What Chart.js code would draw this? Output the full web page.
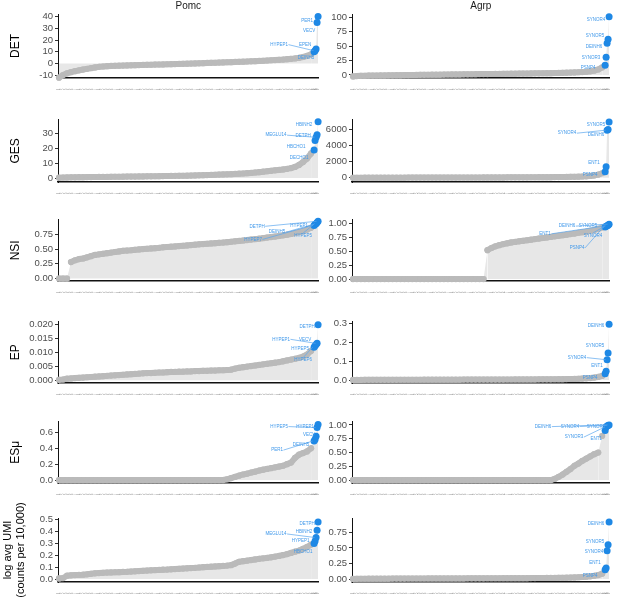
<!DOCTYPE html>
<html>
<head>
<meta charset="utf-8">
<script src="https://cdn.jsdelivr.net/npm/chart.js@4.4.1/dist/chart.umd.min.js"></script>
<style>
  html, body { margin: 0; padding: 0; background: #fff; }
  #fig { position: relative; width: 617px; height: 604px; overflow: hidden; background: #fff; }
  .panel { position: absolute; }
</style>
</head>
<body>
<div id="fig"></div>
<script>
// gray curve is read every 4th gene rank, the 5 top genes are the blue ones
var sampleStep = 4;
var topRanks = [256, 257, 258, 259, 260];

// ---- DET ----
var pomcDET = [-12,-9.8,-8.3,-7.3,-6.5,-5.8,-5.1,-4.5,-3.9,-3.3,-2.8,-2.5,-2.2,-2.0,-1.9,-1.8,-1.7,-1.6,-1.5,-1.4,-1.3,-1.2,-1.1,-1.0,-0.9,-0.8,-0.7,-0.6,-0.5,-0.4,-0.3,-0.2,-0.1,0,0.1,0.2,0.35,0.5,0.6,0.7,0.85,1.0,1.1,1.2,1.35,1.5,1.6,1.75,1.9,2.0,2.2,2.4,2.6,2.8,3.0,3.2,3.4,3.7,4.0,4.4,4.9,5.6,6.5,7.8];
var pomcDETTop = [10, 11, 12.5, 35, 40];
var pomcDETNames = ["DEINH5", "HYPEP1", "EPEN", "VECV", "PER1"];
var agrpDET = [-2.5,-1.8,-1.5,-1.3,-1.1,-1.0,-0.9,-0.8,-0.7,-0.6,-0.5,-0.4,-0.3,-0.2,-0.1,0,0.1,0.2,0.3,0.4,0.5,0.6,0.6,0.7,0.8,0.9,1.0,1.0,1.1,1.2,1.3,1.4,1.5,1.5,1.6,1.7,1.8,1.9,2.0,2.1,2.2,2.3,2.4,2.5,2.6,2.7,2.8,2.9,3.0,3.1,3.2,3.4,3.5,3.7,3.9,4.1,4.4,4.7,5.1,5.6,6.3,7.5,9.5,13];
var agrpDETTop = [17, 30.5, 54.6, 61.5, 100.5];
var agrpDETNames = ["PSNP4", "SYNOR3", "DEINH6", "SYNOR5", "SYNOR4"];

// ---- GES ----
var pomcGES = [0.3,0.4,0.45,0.5,0.55,0.6,0.65,0.7,0.72,0.75,0.78,0.8,0.83,0.86,0.9,0.93,0.96,1.0,1.03,1.06,1.1,1.14,1.18,1.22,1.26,1.3,1.35,1.4,1.45,1.5,1.55,1.6,1.66,1.72,1.8,1.88,1.96,2.05,2.15,2.25,2.35,2.45,2.55,2.65,2.8,2.95,3.1,3.3,3.5,3.75,4.0,4.3,4.6,4.9,5.2,5.5,5.8,6.2,6.7,7.5,8.8,10.8,13.2,16.5];
var pomcGESTop = [18.9, 25.2, 27.4, 29.1, 37.8];
var pomcGESNames = ["HBCHO1", "DECHO1", "MEGLU14", "DETPH", "HBINH2"];
var agrpGES = [2,4,6,8,9,10,11,12,13,14,15,16,17,18,19,20,21,22,23,24,25,26,27,28,29,30,31,32,33,34,35,36,37,38,40,42,44,46,48,50,52,54,56,58,60,63,66,69,72,76,80,85,90,96,103,112,123,138,158,185,225,290,390,560];
var agrpGESTop = [760, 1360, 5880, 5960, 6880];
var agrpGESNames = ["PSNP4", "ENT1", "SYNOR4", "DEINH6", "SYNOR5"];

// ---- NSI ----
var pomcNSI = [0,0,0,0.28,0.31,0.33,0.34,0.36,0.38,0.40,0.41,0.42,0.43,0.44,0.45,0.46,0.47,0.475,0.48,0.487,0.493,0.5,0.505,0.51,0.515,0.52,0.53,0.535,0.54,0.545,0.55,0.556,0.562,0.568,0.574,0.58,0.585,0.59,0.595,0.6,0.605,0.61,0.617,0.624,0.631,0.638,0.645,0.652,0.66,0.668,0.676,0.685,0.694,0.703,0.712,0.722,0.732,0.743,0.755,0.77,0.785,0.805,0.83,0.86];
var pomcNSITop = [0.90, 0.92, 0.93, 0.95, 0.97];
var pomcNSINames = ["HYPEP7", "DEINH5", "HYPEP5", "HYPEP1", "DETPH"];
var agrpNSI = [0,0,0,0,0,0,0,0,0,0,0,0,0,0,0,0,0,0,0,0,0,0,0,0,0,0,0,0,0,0,0,0,0,0,0.52,0.56,0.59,0.61,0.63,0.645,0.66,0.67,0.68,0.69,0.70,0.71,0.72,0.73,0.74,0.75,0.76,0.77,0.78,0.79,0.80,0.81,0.82,0.835,0.845,0.855,0.87,0.885,0.905,0.93];
var agrpNSITop = [0.94, 0.95, 0.96, 0.97, 0.99];
var agrpNSINames = ["PSNP4", "SYNOR4", "ENT1", "SYNOR5", "DEINH6"];

// ---- EP ----
var pomcEP = [0.0002,0.0003,0.0006,0.0007,0.0008,0.0009,0.001,0.0011,0.0012,0.0013,0.0014,0.0015,0.0016,0.0017,0.0018,0.0019,0.002,0.0021,0.0022,0.0023,0.0024,0.0025,0.0026,0.0026,0.0027,0.0028,0.0028,0.0029,0.003,0.003,0.0031,0.0031,0.0032,0.0032,0.0033,0.0033,0.0034,0.0034,0.0035,0.0035,0.0036,0.0036,0.0037,0.0038,0.0042,0.0045,0.0047,0.0049,0.0051,0.0053,0.0055,0.0057,0.0059,0.0061,0.0063,0.0065,0.0068,0.0071,0.0074,0.0077,0.008,0.0085,0.0092,0.0105];
var pomcEPTop = [0.0118, 0.0123, 0.0128, 0.0132, 0.0198];
var pomcEPNames = ["HYPEP6", "HYPEP5", "VECV", "HYPEP1", "DETPH"];
var agrpEP = [0.0005,0.0007,0.0008,0.0009,0.001,0.001,0.0011,0.0011,0.0012,0.0012,0.0013,0.0013,0.0014,0.0014,0.0015,0.0015,0.0016,0.0016,0.0017,0.0017,0.0018,0.0018,0.0019,0.0019,0.002,0.002,0.0021,0.0021,0.0022,0.0022,0.0023,0.0023,0.0024,0.0024,0.0025,0.0025,0.0026,0.0026,0.0027,0.0028,0.0029,0.003,0.0031,0.0032,0.0033,0.0034,0.0035,0.0036,0.0037,0.0038,0.004,0.0042,0.0044,0.0047,0.005,0.0054,0.0059,0.0066,0.0075,0.0088,0.0105,0.013,0.0165,0.022];
var agrpEPTop = [0.033, 0.047, 0.108, 0.143, 0.295];
var agrpEPNames = ["PSNP4", "ENT1", "SYNOR4", "SYNOR5", "DEINH6"];

// ---- ESmu ----
var pomcESmu = [0,0,0,0,0,0,0,0,0,0,0,0,0,0,0,0,0,0,0,0,0,0,0,0,0,0,0,0,0,0,0,0,0,0,0,0,0,0,0,0,0,0,0.01,0.025,0.04,0.055,0.07,0.08,0.095,0.105,0.12,0.13,0.14,0.15,0.16,0.17,0.18,0.2,0.22,0.28,0.32,0.34,0.36,0.4];
var pomcESmuTop = [0.49, 0.51, 0.55, 0.66, 0.70];
var pomcESmuNames = ["PER1", "DEINH5", "VECV", "HYPEP5", "HYPEP1"];
var agrpESmu = [0,0,0,0,0,0,0,0,0,0,0,0,0,0,0,0,0,0,0,0,0,0,0,0,0,0,0,0,0,0,0,0,0,0,0,0,0,0,0,0,0,0,0,0,0,0,0,0,0,0,0,0.02,0.06,0.1,0.15,0.2,0.26,0.3,0.35,0.39,0.43,0.47,0.5,0.8];
var agrpESmuTop = [0.90, 0.96, 0.98, 0.99, 1.0];
var agrpESmuNames = ["ENT1", "SYNOR3", "SYNOR5", "SYNOR4", "DEINH6"];

// ---- log avg UMI ----
var pomcUMI = [0.005,0.008,0.028,0.031,0.033,0.035,0.037,0.04,0.044,0.048,0.05,0.052,0.054,0.056,0.057,0.058,0.06,0.061,0.063,0.065,0.067,0.069,0.071,0.073,0.075,0.077,0.079,0.08,0.082,0.084,0.086,0.088,0.09,0.092,0.094,0.097,0.1,0.102,0.104,0.106,0.108,0.11,0.113,0.117,0.13,0.145,0.15,0.155,0.16,0.165,0.17,0.174,0.178,0.183,0.189,0.195,0.202,0.21,0.22,0.23,0.24,0.255,0.27,0.29];
var pomcUMITop = [0.30, 0.32, 0.35, 0.41, 0.48];
var pomcUMINames = ["HBCHO1", "HYPEP1", "MEGLU14", "HBINH2", "DETPH"];
var agrpUMI = [0.002,0.003,0.004,0.004,0.005,0.005,0.005,0.006,0.006,0.006,0.007,0.007,0.007,0.007,0.008,0.008,0.008,0.008,0.008,0.009,0.009,0.009,0.009,0.009,0.01,0.01,0.01,0.01,0.01,0.011,0.011,0.011,0.011,0.011,0.012,0.012,0.012,0.012,0.013,0.013,0.013,0.013,0.014,0.014,0.014,0.015,0.015,0.016,0.016,0.017,0.017,0.018,0.019,0.02,0.021,0.023,0.025,0.028,0.032,0.037,0.043,0.052,0.064,0.085];
var agrpUMITop = [0.15, 0.175, 0.455, 0.55, 0.915];
var agrpUMINames = ["PSNP4", "ENT1", "SYNOR4", "SYNOR5", "DEINH6"];

// tick values per panel
var detPomcTicks = [-10, 0, 10, 20, 30, 40];
var detAgrpTicks = [0, 25, 50, 75, 100];
var gesPomcTicks = [0, 10, 20, 30];
var gesAgrpTicks = [0, 2000, 4000, 6000];
var nsiPomcTicks = [0, 0.25, 0.5, 0.75];
var nsiAgrpTicks = [0, 0.25, 0.5, 0.75, 1];
var epPomcTicks = [0, 0.005, 0.01, 0.015, 0.02];
var epAgrpTicks = [0, 0.1, 0.2, 0.3];
var esPomcTicks = [0, 0.2, 0.4, 0.6];
var esAgrpTicks = [0, 0.25, 0.5, 0.75, 1];
var umiPomcTicks = [0, 0.1, 0.2, 0.3, 0.4, 0.5];
var umiAgrpTicks = [0, 0.25, 0.5, 0.75];

var rowTitles = ["DET", "GES", "NSI", "EP", "ESμ", ["log avg UMI", "(counts per 10,000)"]];
var colTitles = ["Pomc", "Agrp"];

// layout
var rowTop = [14, 118, 218, 320, 420, 518];
var rowBottom = [78, 182, 281, 383, 483, 582];
var cols = [
  { left: 0, width: 326, axisW: 58, padR: 3 },
  { left: 300, width: 317, axisW: 52, padR: 1 }
];
var GRAY = "#bababa", BLUE = "#1e88e5", FILL = "#e7e7e7", LABEL = "#3f98ea";

// [dx, dy, leader]
var panels = [
  { row: 0, col: 0, gray: pomcDET, top: pomcDETTop, names: pomcDETNames, min: -12.3, max: 42.2, ticks: detPomcTicks, dp: 0,
    off: [[-8,6],[-36,-6,1],[-11,-4],[-8,8],[-11,4]] },
  { row: 0, col: 1, gray: agrpDET, top: agrpDETTop, names: agrpDETNames, min: -5.2, max: 105.2, ticks: detAgrpTicks, dp: 0,
    off: [[-17,3],[-15,0],[-13,3],[-13,-4],[-13,3]] },
  { row: 1, col: 0, gray: pomcGES, top: pomcGESTop, names: pomcGESNames, min: -2.6, max: 39.1, ticks: gesPomcTicks, dp: 0,
    off: [[-18,-3],[-16,17],[-40,-2,1],[-14,1],[-14,3]] },
  { row: 1, col: 1, gray: agrpGES, top: agrpGESTop, names: agrpGESNames, min: -522, max: 7178, ticks: gesAgrpTicks, dp: 0,
    off: [[-15,3],[-12,-4],[-40,3,1],[-12,5],[-13,3]] },
  { row: 2, col: 0, gray: pomcNSI, top: pomcNSITop, names: pomcNSINames, min: -0.041, max: 0.997, ticks: nsiPomcTicks, dp: 2,
    off: [[-61,14,1],[-38,8,1],[-13,12,1],[-18,3.5],[-61,5,1]] },
  { row: 2, col: 1, gray: agrpNSI, top: agrpNSITop, names: agrpNSINames, min: -0.035, max: 1.07, ticks: nsiAgrpTicks, dp: 2,
    off: [[-28,21,1],[-13,9,1],[-62,8,1],[-20,0.6],[-42,2,1]] },
  { row: 3, col: 0, gray: pomcEP, top: pomcEPTop, names: pomcEPNames, min: -0.00094, max: 0.0209, ticks: epPomcTicks, dp: 3,
    off: [[-11,13,1],[-15,3.4],[-11,-5],[-36,-4,1],[-11,1.5]] },
  { row: 3, col: 1, gray: agrpEP, top: agrpEPTop, names: agrpEPNames, min: -0.0157, max: 0.309, ticks: epAgrpTicks, dp: 1,
    off: [[-15,4],[-9,-5],[-30,-2,1],[-13,-7.4],[-13,1.3]] },
  { row: 4, col: 0, gray: pomcESmu, top: pomcESmuTop, names: pomcESmuNames, min: -0.037, max: 0.734, ticks: esPomcTicks, dp: 1,
    off: [[-37,9,1],[-14,5],[-7,-1.7],[-38,-1,1],[-13,2]] },
  { row: 4, col: 1, gray: agrpESmu, top: agrpESmuTop, names: agrpESmuNames, min: -0.053, max: 1.058, ticks: esAgrpTicks, dp: 2,
    off: [[-9,8],[-32,10,1],[-11,0.6],[-38,1,1],[-66,1.7,1]] },
  { row: 5, col: 0, gray: pomcUMI, top: pomcUMITop, names: pomcUMINames, min: -0.025, max: 0.514, ticks: umiPomcTicks, dp: 1,
    off: [[-11,8],[-14.5,-0.7],[-40,-3.5,1],[-13,1],[-11,2]] },
  { row: 5, col: 1, gray: agrpUMI, top: agrpUMITop, names: agrpUMINames, min: -0.048, max: 0.98, ticks: umiAgrpTicks, dp: 2,
    off: [[-15,6],[-11,-5],[-13,1.3],[-13,-3.5],[-13,2]] }
];

Chart.defaults.font.family = '"Liberation Sans", Arial, Helvetica, sans-serif';

// repelled gene labels for the highlighted points
var geneLabels = {
  id: "geneLabels",
  afterDatasetsDraw: function(chart, args, opts) {
    var meta = chart.getDatasetMeta(0);
    var ctx = chart.ctx;
    var first = meta.data.length - opts.names.length;
    ctx.save();
    ctx.font = '4.5px "Liberation Sans", Arial, sans-serif';
    ctx.textAlign = "center";
    ctx.textBaseline = "middle";
    opts.names.forEach(function(name, k) {
      var pt = meta.data[first + k];
      var o = opts.off[k];
      var tx = pt.x + o[0], ty = pt.y + o[1];
      if (o[2]) {
        var w = ctx.measureText(name).width;
        var sx = tx, sy = ty;
        if (o[0] < -20) { sx = tx + w / 2 + 0.5; } else { sy = ty + (o[1] > 0 ? -2.5 : 2.5); }
        ctx.strokeStyle = "#5aa6ee";
        ctx.lineWidth = 0.7;
        ctx.beginPath();
        ctx.moveTo(sx, sy);
        ctx.lineTo(pt.x - 1.5, pt.y);
        ctx.stroke();
      }
      ctx.fillStyle = LABEL;
      ctx.fillText(name, tx, ty);
    });
    ctx.restore();
  }
};

var fig = document.getElementById("fig");

panels.forEach(function(p) {
  var col = cols[p.col];
  var last = p.row === 5;
  var padTop = p.row === 0 ? 0 : (last ? 20 : 6);
  var padBottom = last ? 10 : 0;
  var top = p.row === 0 ? 0 : rowTop[p.row] - padTop;
  var h = rowBottom[p.row] - top + 12 + padBottom;
  var div = document.createElement("div");
  div.className = "panel";
  div.style.left = col.left + "px";
  div.style.top = top + "px";
  div.style.width = col.width + "px";
  div.style.height = h + "px";
  var cv = document.createElement("canvas");
  div.appendChild(cv);
  fig.appendChild(div);

  var nGray = p.gray.length;
  var pts = p.gray.map(function(v, i) { return { x: 1 + i * sampleStep, y: v }; })
    .concat(p.top.map(function(v, k) { return { x: topRanks[k], y: v }; }));
  var colors = pts.map(function(d, i) { return i < nGray ? GRAY : BLUE; });
  var radii = pts.map(function(d, i) { return i < nGray ? 3.1 : 3.5; });
  var xTicks = pts.map(function(d) { return d.x; });

  var rt = rowTitles[p.row];
  var twoLine = Array.isArray(rt);

  new Chart(cv, {
    type: "line",
    data: {
      datasets: [{
        data: pts,
        fill: "origin",
        backgroundColor: FILL,
        borderColor: GRAY,
        borderWidth: 6,
        borderCapStyle: "round",
        borderJoinStyle: "round",
        segment: {
          // the thick band joins neighbouring gray points only, not jumps
          borderColor: function(c) {
            if (c.p1DataIndex >= nGray) return "rgba(0,0,0,0)";
            if (Math.abs(c.p1.y - c.p0.y) > 7) return "rgba(0,0,0,0)";
            return GRAY;
          }
        },
        tension: 0,
        pointRadius: radii,
        pointBackgroundColor: colors,
        pointBorderWidth: 0,
        clip: false
      }]
    },
    options: {
      responsive: true,
      maintainAspectRatio: false,
      animation: false,
      events: [],
      layout: { padding: { top: padTop, right: col.padR, bottom: padBottom, left: 0 } },
      plugins: {
        legend: { display: false },
        tooltip: { enabled: false },
        title: {
          display: p.row === 0,
          text: colTitles[p.col],
          fullSize: false,
          color: "#1a1a1a",
          font: { size: 10, weight: "normal" },
          padding: { top: 0, bottom: 2 }
        },
        geneLabels: { names: p.names, off: p.off }
      },
      scales: {
        x: {
          type: "linear",
          min: 0,
          max: 260.5,
          afterBuildTicks: function(s) { s.ticks = xTicks.map(function(v) { return { value: v }; }); },
          afterFit: function(s) { s.height = 12; },
          grid: { display: false },
          border: { display: true, color: "#111", width: 1.5 },
          ticks: {
            autoSkip: false,
            minRotation: 90,
            maxRotation: 90,
            padding: 2.5,
            color: "#999999",
            font: { size: 4.5 },
            callback: function(v) { return String(v); }
          }
        },
        y: {
          type: "linear",
          min: p.min,
          max: p.max,
          afterBuildTicks: function(s) { s.ticks = p.ticks.map(function(v) { return { value: v }; }); },
          afterFit: function(s) { s.width = col.axisW; },
          grid: { display: true, drawOnChartArea: false, drawTicks: true, tickLength: 3, color: "#333", tickColor: "#333" },
          border: { display: true, color: "#111", width: 1 },
          ticks: {
            autoSkip: false,
            padding: 2,
            color: "#4d4d4d",
            font: { size: 9.5 },
            callback: function(v) { return Number(v).toFixed(p.dp); }
          },
          title: {
            display: p.col === 0,
            text: rt,
            color: "#000",
            font: { size: twoLine ? 11 : 12 },
            padding: { top: twoLine ? 1.5 : 8, bottom: 0 }
          }
        }
      }
    },
    plugins: [geneLabels]
  });
});
</script>
</body>
</html>
